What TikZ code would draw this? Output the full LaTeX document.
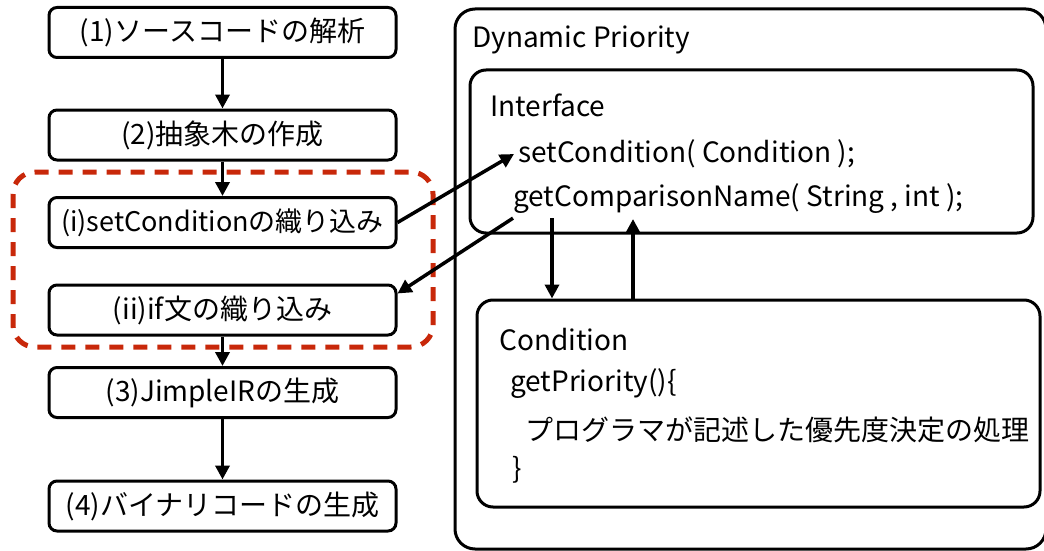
\documentclass[tikz,border=0pt]{standalone}
\usepackage{fontspec}
\setmainfont{Noto Sans CJK JP}
\usepackage{xcolor}
\usetikzlibrary{arrows.meta, calc, positioning}
\definecolor{groupred}{RGB}{200,40,10}

\begin{document}
\begin{tikzpicture}[x=1pt, y=-1pt,
        font=\fontsize{28}{32}\selectfont,
        proc/.style={draw, line width=3pt, rounded corners=8pt,
            minimum width=347pt, minimum height=50pt, inner sep=0pt},
        frame/.style={draw, line width=3pt, rounded corners=16pt, inner sep=0pt},
        txt/.style={anchor=west, inner sep=4pt},
        arr/.style={line width=3.5pt, -{Triangle[length=14pt,width=14pt]}},
        group/.style={draw=groupred, line width=5pt,
            dash pattern=on 14pt off 10pt, rounded corners=22pt}]
    \useasboundingbox (0,0) rectangle (1044,551);

    % left column: steps of the compiler
    \node[proc] (s1) at (222.5,32.5) {(1)ソースコードの解析};
    \node[proc] (s2) at (222.5,135)  {(2)抽象木の作成};
    \node[proc, font=\fontsize{27}{31}\selectfont] (i) at (222.5,222.5) {(i)setConditionの織り込み};
    \node[proc] (ii) at (222.5,310)  {(ii)if文の織り込み};
    \node[proc] (s3) at (222.5,392.5) {(3)JimpleIRの生成};
    \node[proc] (s4) at (222.5,506)  {(4)バイナリコードの生成};

    \draw[group] (13,172) rectangle (433,347);

    \draw[arr] (s1) -- (s2);
    \draw[arr] (s2) -- (i);
    \draw[arr] (ii) -- (s3);
    \draw[arr] (s3) -- (s4);

    % right side: Dynamic Priority
    \node[frame, rounded corners=20pt, minimum width=591pt, minimum height=540pt]
        (dp) at (750.5,279) {};
    \node[txt] (dptitle) at (468,40) {Dynamic Priority};

    \node[frame, minimum width=563pt, minimum height=163pt] (intf) at (751.5,151.5) {};
    \node[txt] (intftitle) at (486,105) {Interface};
    \node[txt] (setc) at (514,154) {setCondition( Condition );};
    \node[txt] (getc) at (509,199) {getComparisonName( String , int );};

    \node[frame, minimum width=563pt, minimum height=207pt] (cond) at (758.5,403.5) {};
    \node[txt] (condtitle) at (495,340) {Condition};
    \node[txt] (getp) at (506,384) {getPriority()\{};
    \node[txt] (proc) at (521,430) {プログラマが記述した優先度決定の処理};
    \node[txt] (close) at (508,470) {\}};

    \coordinate (dn) at (552,218);
    \coordinate (up) at (633,219);
    \draw[arr] (dn) -- (dn |- cond.north);
    \draw[arr] (up |- cond.north) -- (up);

    \draw[arr] (i.east) -- (setc.west);
    \draw[arr] ([xshift=4pt]getc.south west) -- ($(ii.north east)+(0,10)$);
\end{tikzpicture}
\end{document}
